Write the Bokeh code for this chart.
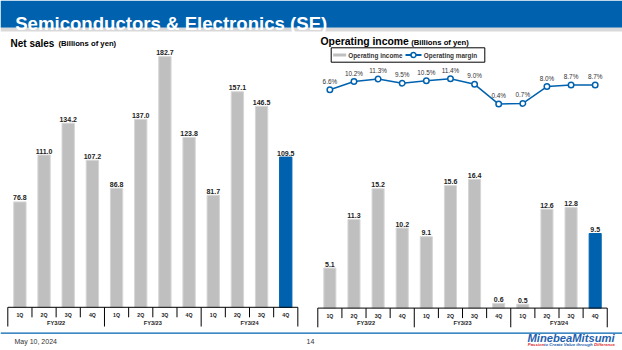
from bokeh.plotting import figure
from bokeh.models import Range1d, ColumnDataSource
from bokeh.core.properties import value
from bokeh.embed import file_html
from bokeh.resources import INLINE

# ---------------- data ----------------
quarters = ["1Q", "2Q", "3Q", "4Q", "1Q", "2Q", "3Q", "4Q", "1Q", "2Q", "3Q", "4Q"]
fiscal_years = ["FY3/22", "FY3/23", "FY3/24"]
net_sales = [76.8, 111.0, 134.2, 107.2, 86.8, 137.0, 182.7, 123.8, 81.7, 157.1, 146.5, 109.5]
op_income = [5.1, 11.3, 15.2, 10.2, 9.1, 15.6, 16.4, 0.6, 0.5, 12.6, 12.8, 9.5]
op_margin = [6.6, 10.2, 11.3, 9.5, 10.5, 11.4, 9.0, 0.4, 0.7, 8.0, 8.7, 8.7]
page_title = "Semiconductors & Electronics (SE)"
left_title, left_unit = "Net sales", "(Billions of yen)"
right_title, right_unit = "Operating income", "(Billions of yen)"
legend_labels = ["Operating income", "Operating margin"]
date_text = "May 10, 2024"
page_no = "14"
logo_text = "MinebeaMitsumi"
tagline = ["Passion", "to Create Value through", "Difference"]

# ---------------- styles / layout ----------------
W, H = 622, 350
BLUE = "#0062AF"
GRAY = "#BFBFBF"
TXT = "#222222"
FONT = value("Liberation Sans")

L = dict(x0=7.3, cw=24.17, base=306.8, scale=1.372)   # left panel (pixels)
R = dict(x0=317.3, cw=24.12, base=307.6, scale=7.85)  # right panel (pixels)
M = dict(zero=104.5, scale=2.3)                       # margin line (pixels)

n = len(quarters)
idx = list(range(n))
highlight = [BLUE if i == n - 1 else GRAY for i in idx]
edge = [BLUE if i == n - 1 else "#D6D6D6" for i in idx]

p = figure(width=W, height=H, x_range=Range1d(0, W), y_range=Range1d(H, 0),
           output_backend="svg", toolbar_location=None, min_border=0,
           x_axis_location=None, y_axis_location=None)
p.grid.visible = False
p.outline_line_color = None
p.background_fill_color = "white"
p.border_fill_color = "white"


def xr(cfg):
    return Range1d(-0.5 - cfg["x0"] / cfg["cw"], -0.5 + (W - cfg["x0"]) / cfg["cw"])


def yr(cfg):
    return Range1d(-(H - cfg["base"]) / cfg["scale"], cfg["base"] / cfg["scale"])


p.extra_x_ranges = {"lx": xr(L), "rx": xr(R)}
p.extra_y_ranges = {"ly": yr(L), "ry": yr(R),
                    "my": Range1d((M["zero"] - H) / M["scale"], M["zero"] / M["scale"])}


def txt(x, y, s, size, style="normal", color=TXT, align="left", baseline="middle", **kw):
    p.text(x=[x], y=[y], text=[s], text_font=FONT, text_font_size=f"{size}px",
           text_font_style=style, text_color=color, text_align=align,
           text_baseline=baseline, **kw)


# ---------------- header ----------------
p.quad(left=[0], right=[W], top=[0], bottom=[27.3], fill_color=BLUE, line_color=None)
p.quad(left=[0], right=[W], top=[27.3], bottom=[31], fill_color="#D9D9D9", line_color=None)
txt(14.7, 23.3, page_title, 18.6, "bold", "white", baseline="alphabetic")

# ---------------- panel titles ----------------
txt(10, 42.6, left_title, 10, "bold", "black")
txt(58, 43.0, left_unit, 7.7, "bold", "black")
txt(320, 41.0, right_title, 10.4, "bold", "black")
txt(410.7, 41.5, right_unit, 7.7, "bold", "black")


def category_axis(cfg, rname):
    base = cfg["base"]
    p.segment(x0=[-0.5], x1=[n - 0.5], y0=[base], y1=[base], x_range_name=rname,
              line_color="black", line_width=1)
    bx = [k - 0.5 for k in range(n + 1)]
    long_ = [k % 4 == 0 for k in range(n + 1)]
    p.segment(x0=bx, x1=bx, y0=[base] * len(bx),
              y1=[base + (19.2 if lg else 10) for lg in long_],
              x_range_name=rname, line_color="black", line_width=1)
    p.text(x=idx, y=[base + 7.5] * n, text=quarters, x_range_name=rname,
           text_font=FONT, text_font_size="5.2px", text_font_style="bold",
           text_color=TXT, text_align="center", text_baseline="middle")
    p.text(x=[4 * g + 1.5 for g in range(len(fiscal_years))], y=[base + 15.3] * len(fiscal_years),
           text=fiscal_years, x_range_name=rname,
           text_font=FONT, text_font_size="5.6px", text_font_style="bold",
           text_color=TXT, text_align="center", text_baseline="middle")


# ---------------- left: net sales ----------------
src_l = ColumnDataSource(dict(x=idx, top=net_sales, c=highlight, e=edge,
                              lab=[f"{v:.1f}" for v in net_sales]))
p.vbar(x="x", top="top", bottom=0, width=0.51, source=src_l, x_range_name="lx",
       y_range_name="ly", fill_color="c", line_color="e", line_width=1)
p.text(x="x", y="top", text="lab", source=src_l, x_range_name="lx", y_range_name="ly",
       text_font=FONT, text_font_size="7px", text_font_style="bold", text_color=TXT,
       text_align="center", text_baseline="bottom", y_offset=-1.5)
category_axis(L, "lx")

# ---------------- right: operating income ----------------
src_r = ColumnDataSource(dict(x=idx, top=op_income, c=highlight, e=edge,
                              lab=[f"{v:.1f}" for v in op_income]))
p.vbar(x="x", top="top", bottom=0, width=0.5, source=src_r, x_range_name="rx",
       y_range_name="ry", fill_color="c", line_color="e", line_width=1)
p.text(x="x", y="top", text="lab", source=src_r, x_range_name="rx", y_range_name="ry",
       text_font=FONT, text_font_size="7px", text_font_style="bold", text_color=TXT,
       text_align="center", text_baseline="bottom", y_offset=-1.5)
category_axis(R, "rx")

src_m = ColumnDataSource(dict(x=idx, y=op_margin, lab=[f"{v:.1f}%" for v in op_margin]))
p.line(x="x", y="y", source=src_m, x_range_name="rx", y_range_name="my",
       line_color=BLUE, line_width=1.5)
p.scatter(x="x", y="y", source=src_m, x_range_name="rx", y_range_name="my",
          marker="circle", size=5.5, fill_color="white", line_color=BLUE, line_width=1.5)
p.text(x="x", y="y", text="lab", source=src_m, x_range_name="rx", y_range_name="my",
       text_font=FONT, text_font_size="6.4px", text_color="#333333",
       text_align="center", text_baseline="bottom", y_offset=-5)

# ---------------- legend ----------------
p.quad(left=[330.7], right=[484.3], top=[47.3], bottom=[61.7], fill_color=None,
       line_color="black", line_width=1)
p.quad(left=[332.7], right=[345.7], top=[53.0], bottom=[56.0], fill_color=GRAY, line_color=None)
txt(347.7, 54.5, legend_labels[0], 6.4, "bold", "#333333")
p.segment(x0=[405], x1=[421], y0=[54.5], y1=[54.5], line_color=BLUE, line_width=2.2)
p.scatter(x=[413], y=[54.5], marker="circle", size=5, fill_color="white",
          line_color=BLUE, line_width=1.5)
txt(423.3, 54.5, legend_labels[1], 6.4, "bold", "#333333")

# ---------------- footer ----------------
p.segment(x0=[0], x1=[W], y0=[332.7], y1=[332.7], line_color=BLUE, line_width=1.2)
txt(14, 340.7, date_text, 7, color="#333333")
txt(310, 340.7, page_no, 7, color="#333333", align="center")
txt(527, 337.6, logo_text, 11.2, "bold italic", "#1F5FAE")
txt(527.3, 344.3, tagline[0], 4.3, "bold italic", "#E0282E")
txt(543.5, 344.3, tagline[1], 4.3, "bold italic", "#1F5FAE")
txt(593.5, 344.3, tagline[2], 4.3, "bold italic", "#E0282E")

open("out.html", "w").write(file_html(p, INLINE))
